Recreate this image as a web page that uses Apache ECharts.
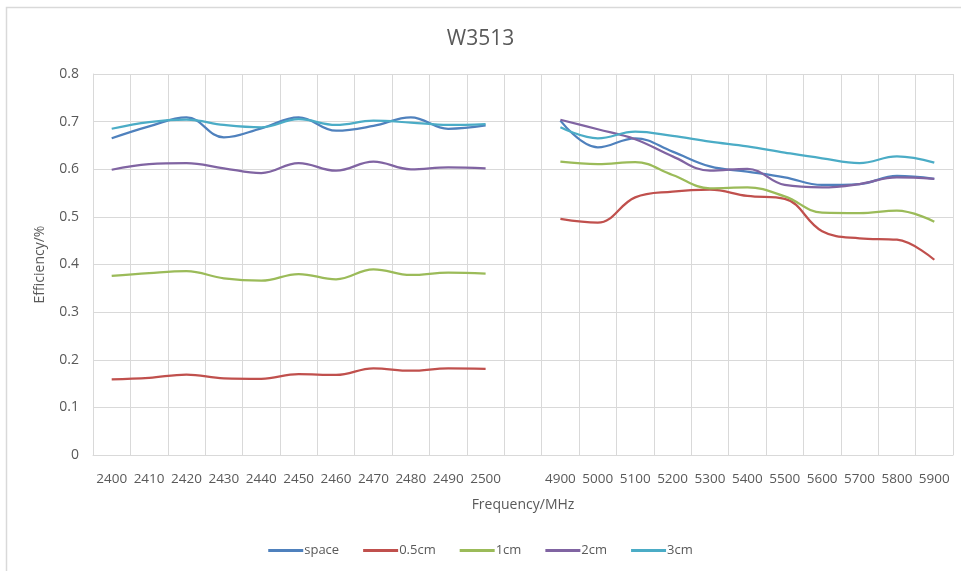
<!DOCTYPE html>
<html>
<head>
<meta charset="utf-8">
<title>W3513</title>
<script src="https://cdn.jsdelivr.net/npm/echarts@6/dist/echarts.min.js"></script>
<style>
    html, body { margin: 0; padding: 0; background: #fff; }
    #main { width: 961px; height: 571px; }
</style>
</head>
<body>
<div id="main"></div>
<script>
// 频点 (空字符串用来隔开两个频段)
var categories = ['2400', '2410', '2420', '2430', '2440', '2450', '2460', '2470', '2480', '2490', '2500', '',
    '4900', '5000', '5100', '5200', '5300', '5400', '5500', '5600', '5700', '5800', '5900'];

var space = [0.665, 0.690, 0.709, 0.667, 0.686, 0.709, 0.681, 0.691, 0.709, 0.685, 0.692, null,
    0.702, 0.646, 0.665, 0.637, 0.606, 0.595, 0.583, 0.567, 0.569, 0.586, 0.580];
var cm05 = [0.159, 0.162, 0.169, 0.161, 0.160, 0.170, 0.168, 0.182, 0.177, 0.182, 0.181, null,
    0.496, 0.488, 0.541, 0.553, 0.557, 0.544, 0.538, 0.470, 0.455, 0.452, 0.410];
var cm1 = [0.376, 0.382, 0.386, 0.371, 0.366, 0.380, 0.369, 0.390, 0.378, 0.383, 0.381, null,
    0.616, 0.611, 0.615, 0.588, 0.560, 0.562, 0.543, 0.509, 0.508, 0.513, 0.490];
var cm2 = [0.599, 0.611, 0.613, 0.602, 0.592, 0.613, 0.597, 0.616, 0.600, 0.604, 0.602, null,
    0.704, 0.684, 0.663, 0.627, 0.597, 0.601, 0.567, 0.562, 0.569, 0.583, 0.580];
var cm3 = [0.685, 0.699, 0.704, 0.693, 0.688, 0.705, 0.693, 0.702, 0.698, 0.693, 0.695, null,
    0.688, 0.665, 0.679, 0.670, 0.658, 0.648, 0.635, 0.623, 0.613, 0.627, 0.614];

var seriesNames = ['space', '0.5cm', '1cm', '2cm', '3cm'];
var colors = ['#4F81BD', '#C0504D', '#9BBB59', '#8064A2', '#4BACC6'];

var textColor = '#595959';
var gridColor = '#d9d9d9';
var font = 'Open Sans';

function makeSeries(name, data) {
    return {
        name: name,
        type: 'line',
        data: data,
        smooth: 0.4,
        showSymbol: false,
        connectNulls: false,
        lineStyle: { width: 2.25 }
    };
}

var option = {
    color: colors,
    animation: false,
    textStyle: { fontFamily: font },
    title: {
        text: 'W3513',
        left: 'center',
        top: 24,
        textStyle: { fontFamily: font, fontSize: 21, fontWeight: 'normal', color: textColor }
    },
    legend: {
        data: seriesNames,
        bottom: 9,
        left: 'center',
        itemWidth: 35,
        itemHeight: 3,
        itemGap: 24,
        icon: 'rect',
        textStyle: { fontFamily: font, fontSize: 13, color: textColor, padding: [0, 0, 0, -4] }
    },
    grid: { left: 93, right: 8, top: 74, bottom: 116 },
    xAxis: {
        type: 'category',
        data: categories,
        boundaryGap: true,
        name: 'Frequency/MHz',
        nameLocation: 'middle',
        nameGap: 43,
        nameTextStyle: { fontFamily: font, fontSize: 14, color: textColor },
        axisLine: { lineStyle: { color: gridColor } },
        axisTick: { show: false },
        axisLabel: { interval: 0, margin: 17, fontFamily: font, fontSize: 13.5, color: textColor },
        splitLine: { show: true, interval: 0, lineStyle: { color: gridColor } }
    },
    yAxis: {
        type: 'value',
        min: 0,
        max: 0.8,
        interval: 0.1,
        name: 'Efficiency/%',
        nameLocation: 'middle',
        nameGap: 46,
        nameTextStyle: { fontFamily: font, fontSize: 14, color: textColor },
        axisLine: { show: true, lineStyle: { color: gridColor } },
        axisLabel: { margin: 14, fontFamily: font, fontSize: 14, color: textColor },
        splitLine: { lineStyle: { color: gridColor } }
    },
    graphic: [{
        type: 'polyline',
        shape: { points: [[6.5, 571], [6.5, 7.5], [961, 7.5]] },
        style: { stroke: gridColor, lineWidth: 1.5, fill: null }
    }],
    series: [
        makeSeries('space', space),
        makeSeries('0.5cm', cm05),
        makeSeries('1cm', cm1),
        makeSeries('2cm', cm2),
        makeSeries('3cm', cm3)
    ]
};

var chart = echarts.init(document.getElementById('main'));
chart.setOption(option);
</script>
</body>
</html>
